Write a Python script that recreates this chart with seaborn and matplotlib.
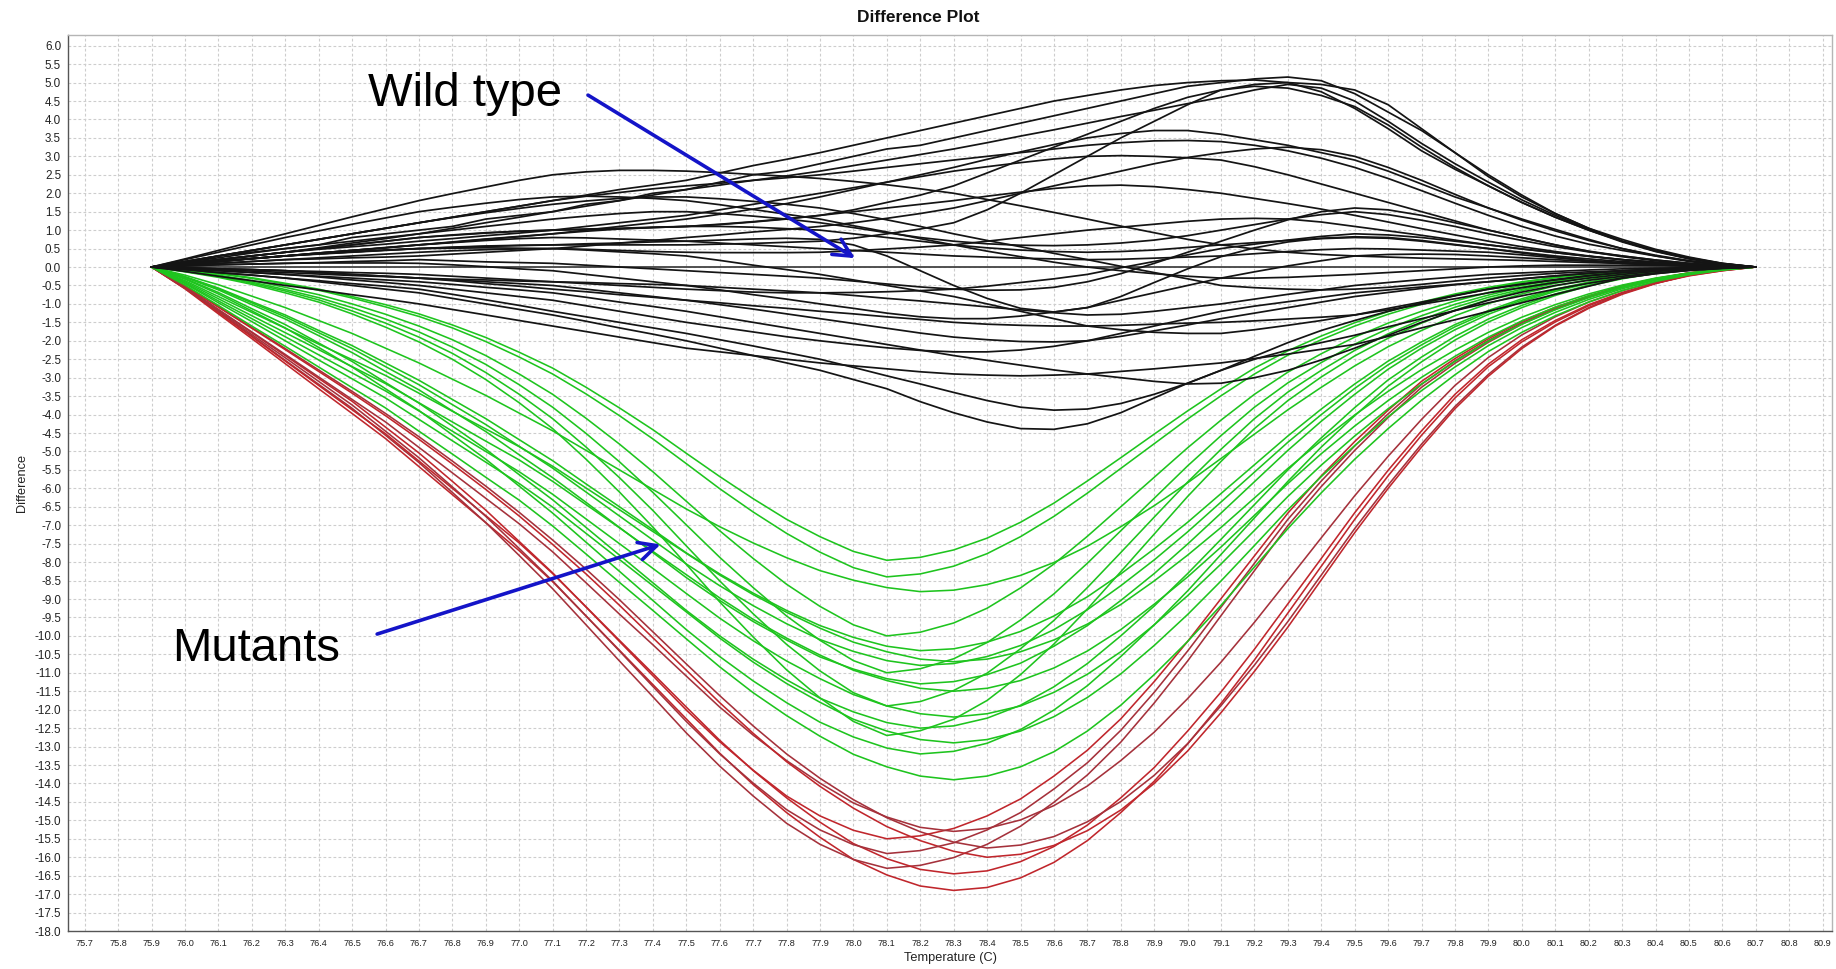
import matplotlib
matplotlib.use("Agg")
import matplotlib.pyplot as plt
import numpy as np
import pandas as pd
import seaborn as sns

# ---------------------------------------------------------------------------
# Melt-curve difference data (difference to the reference sample, per 0.1 C)
# ---------------------------------------------------------------------------
temperature = [75.9, 76.0, 76.1, 76.2, 76.3, 76.4, 76.5, 76.6, 76.7, 76.8, 76.9,
               77.0, 77.1, 77.2, 77.3, 77.4, 77.5, 77.6, 77.7, 77.8, 77.9,
               78.0, 78.1, 78.2, 78.3, 78.4, 78.5, 78.6, 78.7, 78.8, 78.9,
               79.0, 79.1, 79.2, 79.3, 79.4, 79.5, 79.6, 79.7, 79.8, 79.9,
               80.0, 80.1, 80.2, 80.3, 80.4, 80.5, 80.6, 80.7]

# wild-type samples (black)
wt_00 = [0] * 49
wt_01 = [0,.1,.3,.4,.5,.6,.8,.9,1.0,1.1,1.3,1.4,1.5,1.7,1.8,2.0,2.1,2.3,2.5,2.6,2.8,3.0,3.2,3.3,3.5,3.7,3.9,4.1,4.3,4.5,4.7,4.9,5.0,5.1,5.15,5.05,4.7,4.2,3.7,3.1,2.45,1.9,1.45,1.05,.75,.48,.27,.1,0]
wt_02 = [0,.15,.3,.45,.6,.75,.9,1.05,1.2,1.35,1.5,1.65,1.8,1.95,2.1,2.22,2.35,2.55,2.75,2.92,3.1,3.3,3.5,3.7,3.9,4.1,4.3,4.5,4.65,4.8,4.92,5.0,5.05,5.07,5.0,4.75,4.3,3.75,3.15,2.65,2.2,1.75,1.35,1.0,.7,.45,.25,.1,0]
wt_03 = [0,.08,.16,.23,.3,.36,.41,.46,.5,.54,.57,.59,.6,.6,.6,.6,.6,.62,.64,.67,.7,.78,.9,1.03,1.2,1.55,2.0,2.5,3.0,3.5,3.95,4.4,4.8,4.95,5.0,4.95,4.8,4.4,3.75,3.1,2.5,1.95,1.45,1.05,.7,.43,.23,.09,0]
wt_04 = [0,.1,.2,.3,.4,.5,.6,.7,.8,.86,.92,.97,1.0,1.03,1.05,1.08,1.1,1.15,1.22,1.3,1.4,1.55,1.75,1.95,2.2,2.55,2.9,3.25,3.6,3.95,4.3,4.6,4.8,4.9,4.85,4.65,4.35,3.85,3.25,2.7,2.2,1.75,1.35,1.0,.68,.42,.22,.08,0]
wt_05 = [0,.1,.2,.3,.4,.52,.65,.77,.9,1.05,1.2,1.35,1.5,1.65,1.8,1.95,2.1,2.22,2.35,2.47,2.6,2.75,2.9,3.05,3.2,3.37,3.55,3.72,3.9,4.08,4.25,4.43,4.6,4.8,4.95,4.85,4.5,3.95,3.35,2.8,2.3,1.82,1.4,1.02,.7,.44,.24,.09,0]
wt_06 = [0,.08,.15,.23,.3,.38,.45,.52,.6,.67,.75,.82,.9,1.0,1.1,1.2,1.3,1.43,1.57,1.72,1.9,2.1,2.3,2.5,2.7,2.92,3.12,3.32,3.5,3.62,3.7,3.7,3.6,3.45,3.3,3.1,2.9,2.6,2.25,1.9,1.6,1.3,1.02,.75,.5,.3,.15,.05,0]
wt_07 = [0,.05,.1,.15,.2,.22,.25,.27,.3,.35,.4,.45,.5,.57,.65,.72,.8,.87,.95,1.02,1.1,1.2,1.32,1.45,1.6,1.8,2.0,2.2,2.4,2.6,2.8,2.97,3.1,3.2,3.25,3.18,3.0,2.7,2.35,1.97,1.6,1.27,.98,.72,.5,.32,.17,.06,0]
wt_08 = [0,.15,.3,.45,.6,.75,.9,1.05,1.2,1.35,1.5,1.65,1.8,1.92,2.02,2.12,2.2,2.27,2.35,2.42,2.5,2.6,2.7,2.8,2.9,3.0,3.1,3.2,3.3,3.37,3.42,3.43,3.4,3.3,3.15,2.95,2.7,2.4,2.07,1.73,1.4,1.1,.84,.62,.45,.3,.17,.07,0]
wt_09 = [0,.22,.45,.68,.9,1.13,1.36,1.58,1.8,1.99,2.17,2.35,2.5,2.58,2.62,2.62,2.6,2.56,2.51,2.46,2.4,2.32,2.23,2.12,2.0,1.83,1.66,1.48,1.3,1.11,.93,.75,.6,.49,.4,.34,.3,.27,.24,.22,.2,.18,.15,.12,.1,.07,.05,.02,0]
wt_10 = [0,.2,.4,.6,.8,.98,1.16,1.33,1.5,1.62,1.73,1.83,1.9,1.92,1.9,1.86,1.8,1.69,1.56,1.43,1.3,1.12,.95,.77,.6,.43,.28,.13,0,-.1,-.18,-.25,-.3,-.3,-.28,-.24,-.2,-.15,-.1,-.05,0,.03,.05,.05,.05,.04,.03,.01,0]
wt_11 = [0,.15,.3,.45,.6,.75,.9,1.05,1.2,1.34,1.47,1.59,1.7,1.79,1.86,1.9,1.9,1.85,1.78,1.7,1.6,1.45,1.28,1.1,.9,.72,.55,.37,.2,.02,-.15,-.32,-.5,-.56,-.6,-.62,-.6,-.55,-.47,-.38,-.3,-.23,-.17,-.13,-.1,-.07,-.05,-.02,0]
wt_12 = [0,.1,.2,.3,.4,.5,.6,.7,.8,.87,.93,.97,1.0,1.02,1.04,1.07,1.1,1.16,1.23,1.31,1.4,1.5,1.6,1.7,1.8,1.92,2.03,2.13,2.2,2.22,2.18,2.1,2.0,1.86,1.72,1.57,1.4,1.22,1.04,.87,.7,.55,.42,.3,.2,.12,.06,.02,0]
wt_13 = [0,.08,.15,.23,.3,.38,.45,.52,.6,.68,.76,.83,.9,.97,1.03,1.07,1.1,1.1,1.08,1.04,1.0,.9,.8,.7,.6,.52,.46,.42,.4,.42,.46,.53,.6,.66,.72,.77,.8,.78,.7,.6,.5,.4,.3,.22,.15,.1,.06,.02,0]
wt_14 = [0,.08,.15,.22,.3,.35,.4,.45,.5,.53,.56,.58,.6,.63,.65,.68,.7,.73,.76,.78,.75,.6,.3,-.1,-.5,-.85,-1.12,-1.22,-1.1,-.8,-.42,-.05,.28,.52,.68,.78,.82,.8,.72,.61,.5,.38,.27,.18,.12,.07,.04,.01,0]
wt_15 = [0,.13,.25,.38,.5,.6,.7,.8,.9,1.0,1.1,1.2,1.3,1.38,1.45,1.5,1.5,1.45,1.38,1.3,1.2,1.07,.93,.8,.7,.63,.59,.58,.6,.65,.73,.85,1.0,1.15,1.3,1.42,1.5,1.42,1.27,1.1,.9,.72,.55,.41,.3,.19,.1,.04,0]
wt_16 = [0,.05,.1,.15,.2,.25,.3,.35,.4,.44,.47,.49,.5,.48,.45,.42,.4,.39,.39,.39,.4,.44,.49,.54,.6,.7,.8,.9,1.0,1.08,1.16,1.24,1.3,1.32,1.3,1.22,1.1,.98,.86,.73,.6,.49,.39,.29,.2,.13,.07,.03,0]
wt_17 = [0,.03,.06,.08,.1,.12,.15,.17,.2,.17,.14,.12,.1,.05,0,-.05,-.1,-.15,-.2,-.25,-.3,-.38,-.46,-.54,-.6,-.63,-.62,-.55,-.4,-.18,.1,.4,.7,1.0,1.28,1.5,1.6,1.55,1.4,1.2,1.0,.8,.6,.42,.28,.17,.09,.03,0]
wt_18 = [0,-.02,-.05,-.07,-.1,-.15,-.2,-.25,-.3,-.35,-.4,-.45,-.5,-.6,-.7,-.8,-.9,-1.02,-1.14,-1.27,-1.4,-1.53,-1.66,-1.79,-1.9,-1.97,-2.02,-2.03,-2.0,-1.88,-1.73,-1.57,-1.4,-1.25,-1.1,-.95,-.8,-.69,-.58,-.48,-.4,-.32,-.24,-.17,-.1,-.06,-.03,-.01,0]
wt_19 = [0,-.05,-.1,-.15,-.2,-.27,-.35,-.42,-.5,-.6,-.7,-.8,-.9,-1.05,-1.2,-1.35,-1.5,-1.63,-1.76,-1.89,-2.0,-2.1,-2.19,-2.26,-2.3,-2.3,-2.25,-2.15,-2.0,-1.8,-1.6,-1.4,-1.2,-1.06,-.94,-.82,-.7,-.62,-.54,-.47,-.4,-.32,-.24,-.17,-.1,-.06,-.03,-.01,0]
wt_20 = [0,-.07,-.15,-.22,-.3,-.37,-.45,-.52,-.6,-.74,-.89,-1.04,-1.2,-1.35,-1.5,-1.65,-1.8,-1.97,-2.14,-2.32,-2.5,-2.72,-2.95,-3.17,-3.4,-3.62,-3.8,-3.88,-3.85,-3.7,-3.45,-3.15,-2.8,-2.42,-2.05,-1.72,-1.45,-1.2,-.98,-.78,-.6,-.46,-.34,-.23,-.15,-.09,-.05,-.02,0]
wt_21 = [0,-.07,-.15,-.22,-.3,-.4,-.5,-.6,-.7,-.85,-1.0,-1.15,-1.3,-1.47,-1.65,-1.82,-2.0,-2.2,-2.4,-2.6,-2.8,-3.05,-3.3,-3.65,-3.95,-4.2,-4.38,-4.4,-4.25,-3.95,-3.55,-3.15,-2.8,-2.5,-2.25,-2.05,-1.85,-1.62,-1.4,-1.18,-.97,-.78,-.6,-.44,-.3,-.18,-.09,-.03,0]
wt_22 = [0,-.05,-.1,-.15,-.2,-.25,-.3,-.35,-.4,-.47,-.55,-.62,-.7,-.82,-.95,-1.07,-1.2,-1.35,-1.5,-1.65,-1.8,-1.95,-2.1,-2.25,-2.4,-2.53,-2.66,-2.79,-2.9,-3.0,-3.1,-3.17,-3.15,-3.0,-2.8,-2.52,-2.2,-1.85,-1.5,-1.18,-.9,-.68,-.5,-.36,-.25,-.16,-.09,-.04,0]
wt_23 = [0,-.12,-.25,-.37,-.5,-.62,-.75,-.87,-1.0,-1.15,-1.3,-1.45,-1.6,-1.75,-1.9,-2.05,-2.2,-2.3,-2.4,-2.5,-2.6,-2.68,-2.76,-2.84,-2.9,-2.93,-2.95,-2.93,-2.9,-2.83,-2.76,-2.68,-2.6,-2.48,-2.36,-2.23,-2.1,-1.88,-1.65,-1.43,-1.2,-.97,-.74,-.52,-.3,-.18,-.09,-.03,0]
wt_24 = [0,-.02,-.05,-.07,-.1,-.15,-.2,-.25,-.3,-.37,-.45,-.52,-.6,-.67,-.75,-.82,-.9,-.97,-1.05,-1.12,-1.2,-1.27,-1.35,-1.42,-1.5,-1.55,-1.58,-1.6,-1.6,-1.58,-1.55,-1.52,-1.5,-1.46,-1.41,-1.36,-1.3,-1.16,-1.01,-.86,-.7,-.56,-.42,-.3,-.2,-.12,-.06,-.02,0]
wt_25 = [0,.03,.06,.08,.1,.11,.11,.11,.1,.06,.01,-.05,-.1,-.2,-.3,-.4,-.5,-.62,-.75,-.87,-1.0,-1.12,-1.25,-1.35,-1.4,-1.4,-1.33,-1.22,-1.1,-.9,-.7,-.5,-.3,-.13,.03,.17,.3,.34,.35,.34,.3,.25,.2,.15,.1,.06,.03,.01,0]
wt_26 = [0,-.02,-.05,-.07,-.1,-.12,-.15,-.17,-.2,-.25,-.3,-.35,-.4,-.45,-.5,-.55,-.6,-.64,-.68,-.7,-.7,-.69,-.67,-.64,-.6,-.52,-.42,-.32,-.2,-.02,.15,.33,.5,.62,.73,.83,.9,.87,.8,.7,.6,.49,.39,.29,.2,.13,.07,.03,0]
wt_27 = [0,.08,.15,.23,.3,.36,.41,.46,.5,.51,.52,.51,.5,.46,.41,.36,.3,.18,.05,-.07,-.2,-.35,-.5,-.65,-.8,-1.0,-1.2,-1.4,-1.6,-1.7,-1.77,-1.8,-1.8,-1.7,-1.58,-1.45,-1.3,-1.12,-.95,-.77,-.6,-.47,-.35,-.24,-.15,-.09,-.05,-.02,0]
wt_28 = [0,.1,.2,.3,.4,.48,.55,.62,.7,.77,.85,.92,1.0,1.1,1.2,1.3,1.4,1.55,1.7,1.85,2.0,2.15,2.3,2.45,2.6,2.72,2.83,2.93,3.0,3.02,3.0,2.96,2.9,2.72,2.5,2.25,2.0,1.75,1.5,1.25,1.0,.8,.6,.43,.3,.19,.1,.04,0]
wt_29 = [0,.08,.15,.23,.3,.38,.45,.53,.6,.66,.72,.77,.8,.79,.76,.73,.7,.65,.6,.55,.5,.45,.4,.35,.3,.27,.24,.22,.2,.21,.24,.27,.3,.36,.42,.47,.5,.49,.46,.43,.4,.33,.25,.17,.1,.06,.03,.01,0]
wt_30 = [0,-.04,-.08,-.11,-.15,-.19,-.23,-.26,-.3,-.33,-.35,-.38,-.4,-.42,-.45,-.47,-.5,-.55,-.6,-.65,-.7,-.77,-.85,-.92,-1.0,-1.08,-1.16,-1.24,-1.3,-1.28,-1.2,-1.1,-1.0,-.87,-.74,-.62,-.5,-.42,-.34,-.27,-.2,-.16,-.12,-.08,-.05,-.03,-.02,-.01,0]

# mutant samples, moderate shift (green)
mg_01 = [0,-.08,-.17,-.29,-.44,-.60,-.80,-1.02,-1.27,-1.57,-1.91,-2.31,-2.74,-3.26,-3.82,-4.41,-5.05,-5.68,-6.28,-6.84,-7.31,-7.71,-7.95,
         -7.87,-7.67,-7.35,-6.92,-6.40,-5.80,-5.17,-4.53,-3.90,-3.30,-2.74,-2.27,-1.87,-1.51,-1.21,-.95,-.73,-.55,-.40,-.28,-.18,-.11,-.06,-.02,-.01,0]
mg_02 = [0,-.08,-.18,-.31,-.46,-.63,-.84,-1.08,-1.34,-1.65,-2.02,-2.44,-2.90,-3.44,-4.03,-4.66,-5.33,-6.01,-6.64,-7.22,-7.73,-8.15,-8.4,
         -8.32,-8.11,-7.77,-7.31,-6.76,-6.13,-5.46,-4.79,-4.12,-3.49,-2.90,-2.39,-1.97,-1.60,-1.28,-1.01,-.77,-.58,-.42,-.29,-.19,-.12,-.06,-.03,-.01,0]
mg_03 = [0,-.22,-.48,-.79,-1.10,-1.45,-1.80,-2.2,-2.60,-3.04,-3.48,-3.96,-4.44,-4.97,-5.5,-6.03,-6.56,-7.04,-7.48,-7.88,-8.23,-8.49,-8.69,-8.8,
         -8.76,-8.61,-8.36,-8.01,-7.57,-7.04,-6.47,-5.85,-5.19,-4.53,-3.87,-3.26,-2.68,-2.16,-1.72,-1.32,-.99,-.73,-.51,-.34,-.21,-.11,-.04,-.01,0]
mg_04 = [0,-.1,-.22,-.37,-.55,-.75,-1.0,-1.28,-1.6,-1.97,-2.4,-2.9,-3.45,-4.1,-4.8,-5.55,-6.35,-7.15,-7.9,-8.6,-9.2,-9.7,-10.0,
         -9.9,-9.65,-9.25,-8.7,-8.05,-7.3,-6.5,-5.7,-4.9,-4.15,-3.45,-2.85,-2.35,-1.9,-1.52,-1.2,-.92,-.69,-.5,-.35,-.23,-.14,-.07,-.03,-.01,0]
mg_05 = [0,-.26,-.57,-.94,-1.30,-1.72,-2.13,-2.6,-3.07,-3.59,-4.11,-4.68,-5.25,-5.88,-6.5,-7.12,-7.75,-8.32,-8.84,-9.31,-9.72,-10.04,-10.28,-10.4,
         -10.35,-10.17,-9.88,-9.46,-8.94,-8.32,-7.64,-6.92,-6.14,-5.36,-4.58,-3.85,-3.17,-2.55,-2.03,-1.56,-1.18,-.86,-.60,-.41,-.25,-.14,-.05,-.01,0]
mg_06 = [0,-.37,-.80,-1.23,-1.66,-2.09,-2.51,-2.94,-3.42,-3.91,-4.39,-4.87,-5.40,-5.99,-6.58,-7.17,-7.76,-8.35,-8.88,-9.36,-9.79,-10.17,-10.43,-10.63,-10.7,
         -10.63,-10.43,-10.11,-9.68,-9.15,-8.51,-7.81,-7.06,-6.26,-5.46,-4.71,-4.01,-3.37,-2.78,-2.25,-1.77,-1.36,-1.02,-.73,-.49,-.30,-.16,-.06,0]
mg_07 = [0,-.11,-.24,-.41,-.61,-.83,-1.1,-1.41,-1.76,-2.17,-2.64,-3.19,-3.80,-4.51,-5.28,-6.11,-6.99,-7.87,-8.69,-9.46,-10.12,-10.67,-11.0,
         -10.89,-10.62,-10.18,-9.57,-8.86,-8.03,-7.15,-6.27,-5.39,-4.57,-3.80,-3.14,-2.59,-2.09,-1.67,-1.32,-1.01,-.76,-.55,-.39,-.25,-.15,-.08,-.03,-.01,0]
mg_08 = [0,-.28,-.62,-1.02,-1.41,-1.86,-2.32,-2.83,-3.33,-3.90,-4.46,-5.09,-5.71,-6.38,-7.06,-7.74,-8.42,-9.04,-9.61,-10.11,-10.57,-10.90,-11.16,-11.3,
         -11.24,-11.05,-10.74,-10.28,-9.72,-9.04,-8.31,-7.51,-6.67,-5.82,-4.97,-4.18,-3.45,-2.77,-2.20,-1.70,-1.28,-.94,-.66,-.44,-.27,-.15,-.06,-.01,0]
mg_09 = [0,-.40,-.86,-1.32,-1.78,-2.24,-2.70,-3.16,-3.68,-4.20,-4.72,-5.23,-5.81,-6.44,-7.07,-7.71,-8.34,-8.97,-9.55,-10.06,-10.52,-10.93,-11.21,-11.42,-11.5,
         -11.42,-11.21,-10.87,-10.41,-9.83,-9.14,-8.40,-7.59,-6.73,-5.87,-5.06,-4.31,-3.62,-2.99,-2.42,-1.90,-1.46,-1.09,-.78,-.53,-.32,-.17,-.07,0]
mg_10 = [0,-.12,-.26,-.44,-.65,-.89,-1.19,-1.52,-1.90,-2.34,-2.86,-3.45,-4.11,-4.88,-5.71,-6.60,-7.56,-8.51,-9.40,-10.23,-10.95,-11.54,-11.9,
         -11.78,-11.48,-11.01,-10.35,-9.58,-8.69,-7.74,-6.78,-5.83,-4.94,-4.11,-3.39,-2.80,-2.26,-1.81,-1.43,-1.09,-.82,-.60,-.42,-.27,-.17,-.08,-.04,-.01,0]
mg_11 = [0,-.43,-.92,-1.40,-1.89,-2.38,-2.87,-3.36,-3.90,-4.45,-5.0,-5.55,-6.16,-6.83,-7.50,-8.17,-8.85,-9.52,-10.13,-10.68,-11.16,-11.59,-11.90,-12.11,-12.2,
         -12.11,-11.90,-11.53,-11.04,-10.43,-9.70,-8.91,-8.05,-7.14,-6.22,-5.37,-4.58,-3.84,-3.17,-2.56,-2.01,-1.55,-1.16,-.83,-.56,-.34,-.18,-.07,0]
mg_12 = [0,-.31,-.69,-1.13,-1.56,-2.06,-2.56,-3.13,-3.69,-4.31,-4.94,-5.63,-6.31,-7.06,-7.81,-8.56,-9.31,-10.0,-10.63,-11.19,-11.69,-12.06,-12.35,-12.5,
         -12.44,-12.23,-11.88,-11.38,-10.75,-10.0,-9.19,-8.31,-7.38,-6.44,-5.5,-4.63,-3.81,-3.06,-2.44,-1.88,-1.41,-1.04,-.73,-.49,-.30,-.16,-.06,-.01,0]
mg_13 = [0,-.13,-.28,-.47,-.70,-.95,-1.27,-1.63,-2.03,-2.50,-3.05,-3.68,-4.38,-5.21,-6.10,-7.05,-8.06,-9.08,-10.03,-10.92,-11.68,-12.32,-12.7,
         -12.57,-12.26,-11.75,-11.05,-10.22,-9.27,-8.26,-7.24,-6.22,-5.27,-4.38,-3.62,-2.98,-2.41,-1.93,-1.52,-1.17,-.88,-.64,-.44,-.29,-.18,-.09,-.04,-.01,0]
mg_14 = [0,-.45,-.97,-1.48,-2.0,-2.52,-3.03,-3.55,-4.13,-4.71,-5.29,-5.87,-6.51,-7.22,-7.93,-8.64,-9.35,-10.06,-10.71,-11.29,-11.80,-12.26,-12.58,-12.81,-12.9,
         -12.81,-12.58,-12.19,-11.67,-11.03,-10.26,-9.42,-8.51,-7.55,-6.58,-5.68,-4.84,-4.06,-3.35,-2.71,-2.13,-1.64,-1.23,-.88,-.59,-.36,-.19,-.08,0]
mg_15 = [0,-.33,-.73,-1.19,-1.65,-2.18,-2.71,-3.30,-3.89,-4.55,-5.21,-5.94,-6.67,-7.46,-8.25,-9.04,-9.83,-10.56,-11.22,-11.81,-12.34,-12.74,-13.04,-13.2,
         -13.13,-12.91,-12.54,-12.01,-11.35,-10.56,-9.70,-8.78,-7.79,-6.80,-5.81,-4.88,-4.03,-3.23,-2.57,-1.98,-1.49,-1.10,-.77,-.51,-.32,-.17,-.07,-.01,0]
mg_16 = [0,-.49,-1.04,-1.60,-2.15,-2.71,-3.27,-3.82,-4.45,-5.07,-5.70,-6.32,-7.02,-7.78,-8.55,-9.31,-10.08,-10.84,-11.54,-12.16,-12.72,-13.21,-13.55,-13.80,-13.9,
         -13.80,-13.55,-13.14,-12.58,-11.88,-11.05,-10.15,-9.17,-8.13,-7.09,-6.12,-5.21,-4.38,-3.61,-2.92,-2.29,-1.77,-1.32,-.95,-.64,-.39,-.21,-.08,0]
mg_17 = [0,-.27,-.59,-.97,-1.35,-1.78,-2.21,-2.7,-3.19,-3.73,-4.27,-4.86,-5.45,-6.10,-6.75,-7.40,-8.05,-8.64,-9.18,-9.67,-10.10,-10.42,-10.67,-10.8,
         -10.75,-10.56,-10.26,-9.83,-9.29,-8.64,-7.94,-7.18,-6.37,-5.56,-4.75,-4.0,-3.29,-2.65,-2.11,-1.62,-1.22,-.90,-.63,-.42,-.26,-.14,-.05,-.01,0]

# mutant samples, strong shift (red)
mr_01 = [0,-.59,-1.27,-1.94,-2.62,-3.30,-3.97,-4.65,-5.41,-6.17,-6.93,-7.69,-8.53,-9.46,-10.39,-11.32,-12.25,-13.18,-14.03,-14.79,-15.46,-16.06,-16.48,-16.78,-16.9,
         -16.82,-16.56,-16.14,-15.55,-14.79,-13.94,-12.93,-11.83,-10.65,-9.38,-8.11,-6.84,-5.66,-4.56,-3.55,-2.70,-2.03,-1.49,-1.05,-.71,-.44,-.24,-.10,0]
mr_02 = [0,-.57,-1.22,-1.87,-2.53,-3.18,-3.83,-4.56,-5.30,-6.11,-6.93,-7.82,-8.72,-9.70,-10.68,-11.65,-12.63,-13.53,-14.34,-15.08,-15.65,-16.06,-16.3,
         -16.22,-16.01,-15.65,-15.16,-14.51,-13.77,-12.88,-11.82,-10.68,-9.45,-8.23,-7.01,-5.95,-4.97,-4.08,-3.26,-2.61,-2.04,-1.55,-1.14,-.82,-.54,-.33,-.16,-.07,0]
mr_03 = [0,-.58,-1.23,-1.89,-2.55,-3.21,-3.87,-4.52,-5.26,-6.0,-6.74,-7.48,-8.31,-9.21,-10.12,-11.02,-11.93,-12.83,-13.65,-14.39,-15.05,-15.63,-16.04,-16.33,-16.45,
         -16.37,-16.12,-15.71,-15.13,-14.39,-13.57,-12.58,-11.52,-10.36,-9.13,-7.90,-6.66,-5.51,-4.44,-3.45,-2.63,-1.97,-1.45,-1.02,-.69,-.43,-.23,-.10,0]
mr_04 = [0,-.50,-1.07,-1.64,-2.21,-2.79,-3.37,-3.97,-4.60,-5.26,-5.94,-6.65,-7.40,-8.19,-9.02,-9.89,-10.76,-11.62,-12.44,-13.20,-13.86,-14.44,-14.93,-15.31,-15.59,
         -15.75,-15.67,-15.44,-15.04,-14.49,-13.78,-12.92,-11.89,-10.79,-9.61,-8.35,-7.09,-5.91,-4.80,-3.78,-2.91,-2.17,-1.58,-1.10,-.72,-.44,-.22,-.08,0]
mr_05 = [0,-.54,-1.16,-1.78,-2.40,-3.02,-3.64,-4.34,-5.04,-5.81,-6.59,-7.44,-8.29,-9.22,-10.15,-11.08,-12.01,-12.87,-13.64,-14.34,-14.88,-15.27,-15.5,
         -15.42,-15.22,-14.88,-14.42,-13.80,-13.10,-12.25,-11.24,-10.15,-8.99,-7.83,-6.67,-5.66,-4.73,-3.88,-3.10,-2.48,-1.94,-1.47,-1.09,-.78,-.51,-.31,-.16,-.06,0]
mr_06 = [0,-.53,-1.15,-1.76,-2.37,-2.98,-3.59,-4.2,-4.89,-5.58,-6.27,-6.96,-7.72,-8.56,-9.41,-10.24,-11.09,-11.93,-12.69,-13.38,-13.99,-14.53,-14.91,-15.19,-15.3,
         -15.22,-14.99,-14.6,-14.07,-13.38,-12.61,-11.7,-10.71,-9.63,-8.49,-7.34,-6.2,-5.13,-4.13,-3.21,-2.45,-1.84,-1.35,-.95,-.64,-.4,-.21,-.09,0]
mr_07 = [0,-.51,-1.09,-1.66,-2.24,-2.83,-3.42,-4.03,-4.67,-5.34,-6.03,-6.75,-7.52,-8.32,-9.17,-10.05,-10.93,-11.81,-12.64,-13.41,-14.08,-14.67,-15.17,-15.55,-15.84,
         -16.0,-15.92,-15.68,-15.28,-14.72,-14.0,-13.12,-12.08,-10.96,-9.76,-8.48,-7.2,-6.0,-4.88,-3.84,-2.96,-2.21,-1.6,-1.12,-.74,-.45,-.22,-.08,0]
mr_08 = [0,-.56,-1.19,-1.83,-2.46,-3.10,-3.74,-4.45,-5.17,-5.96,-6.76,-7.63,-8.51,-9.46,-10.41,-11.37,-12.32,-13.20,-13.99,-14.71,-15.26,-15.66,-15.9,
         -15.82,-15.61,-15.26,-14.79,-14.15,-13.44,-12.56,-11.53,-10.41,-9.22,-8.03,-6.84,-5.80,-4.85,-3.98,-3.18,-2.54,-1.99,-1.51,-1.11,-.80,-.52,-.32,-.16,-.06,0]

wild_type = [wt_00, wt_01, wt_02, wt_03, wt_04, wt_05, wt_06, wt_07, wt_08, wt_09,
             wt_10, wt_11, wt_12, wt_13, wt_14, wt_15, wt_16, wt_17, wt_18, wt_19,
             wt_20, wt_21, wt_22, wt_23, wt_24, wt_25, wt_26, wt_27, wt_28, wt_29, wt_30]
mutant_green = [mg_01, mg_02, mg_03, mg_04, mg_05, mg_06, mg_07, mg_08, mg_09,
                mg_10, mg_11, mg_12, mg_13, mg_14, mg_15, mg_16, mg_17]
mutant_red = [mr_01, mr_02, mr_03, mr_04, mr_05, mr_06, mr_07, mr_08]

x_ticks = [round(75.7 + 0.1 * k, 1) for k in range(53)]
y_ticks = [-18.0 + 0.5 * k for k in range(49)]


def long_table(curves, prefix):
    frames = []
    for n, vals in enumerate(curves):
        frames.append(pd.DataFrame({"temperature": temperature,
                                    "difference": vals,
                                    "sample": f"{prefix}{n:02d}"}))
    return pd.concat(frames, ignore_index=True)


df_red = long_table(mutant_red, "R")
df_green = long_table(mutant_green, "G")
df_black = long_table(wild_type, "W")

# ---------------------------------------------------------------------------
sns.set_style("white")
plt.rcParams["font.family"] = ["Liberation Sans", "DejaVu Sans"]

W, H = 1836, 969
fig = plt.figure(figsize=(W / 100, H / 100), dpi=100)
ax = fig.add_axes([68 / W, (H - 931) / H, (1832 - 68) / W, (931 - 35) / H])

red_cols = ["#c0262c", "#a5313b"]
pal_red = {s: red_cols[i % 2] for i, s in enumerate(df_red["sample"].unique())}
pal_green = {s: "#1ec41e" for s in df_green["sample"].unique()}
pal_black = {s: ("#3c3c3c" if s == "W00" else "#141414") for s in df_black["sample"].unique()}

sns.lineplot(data=df_red, x="temperature", y="difference", hue="sample",
             palette=pal_red, estimator=None, legend=False, sort=False,
             linewidth=1.15, ax=ax)
sns.lineplot(data=df_green, x="temperature", y="difference", hue="sample",
             palette=pal_green, estimator=None, legend=False, sort=False,
             linewidth=1.15, ax=ax)
sns.lineplot(data=df_black, x="temperature", y="difference", hue="sample",
             palette=pal_black, estimator=None, legend=False, sort=False,
             linewidth=1.25, ax=ax)

ax.set_xlim(75.65, 80.928)
ax.set_ylim(-18.0, 6.29)
ax.set_xticks(x_ticks)
ax.set_xticklabels([f"{v:.1f}" for v in x_ticks], fontsize=6.6)
ax.set_yticks(y_ticks)
ax.set_yticklabels([f"{v:.1f}" for v in y_ticks], fontsize=8.4)
ax.set_xlabel("")
ax.set_ylabel("")
ax.tick_params(axis="both", length=3, width=0.8, color="#555555", pad=2,
               labelcolor="#222222", direction="out")
ax.tick_params(axis="x", pad=3)

ax.set_axisbelow(True)
ax.grid(True, color="#cdcdcd", linestyle=(0, (2.5, 2.0)), linewidth=0.8)
for side in ("left", "bottom"):
    ax.spines[side].set_color("#555555")
    ax.spines[side].set_linewidth(1.0)
for side in ("top", "right"):
    ax.spines[side].set_color("#b5b5b5")
    ax.spines[side].set_linewidth(1.0)

fig.text(0.5, 1 - 18 / H, "Difference Plot", ha="center", va="center",
         fontsize=12.5, fontweight="bold", color="#111111")
fig.text(950 / W, 1 - 958 / H, "Temperature (C)", ha="center", va="center",
         fontsize=9.2, color="#222222")
fig.text(22 / W, 1 - 483 / H, "Difference", ha="center", va="center",
         rotation=90, fontsize=9.2, color="#222222")

# group annotations
arrow_blue = "#1414c8"
ax.text(76.838, 4.36, "Wild type", fontsize=34, ha="center", va="baseline", color="black")
ax.annotate("", xy=(78.005, 0.24), xytext=(77.206, 4.66),
            arrowprops=dict(arrowstyle="->", color=arrow_blue, lw=2.6, mutation_scale=32,
                            shrinkA=0, shrinkB=0))
ax.text(76.213, -10.67, "Mutants", fontsize=34, ha="center", va="baseline", color="black")
ax.annotate("", xy=(77.423, -7.52), xytext=(76.575, -9.95),
            arrowprops=dict(arrowstyle="->", color=arrow_blue, lw=2.6, mutation_scale=32,
                            shrinkA=0, shrinkB=0))

fig.savefig("out.png", dpi=100)
